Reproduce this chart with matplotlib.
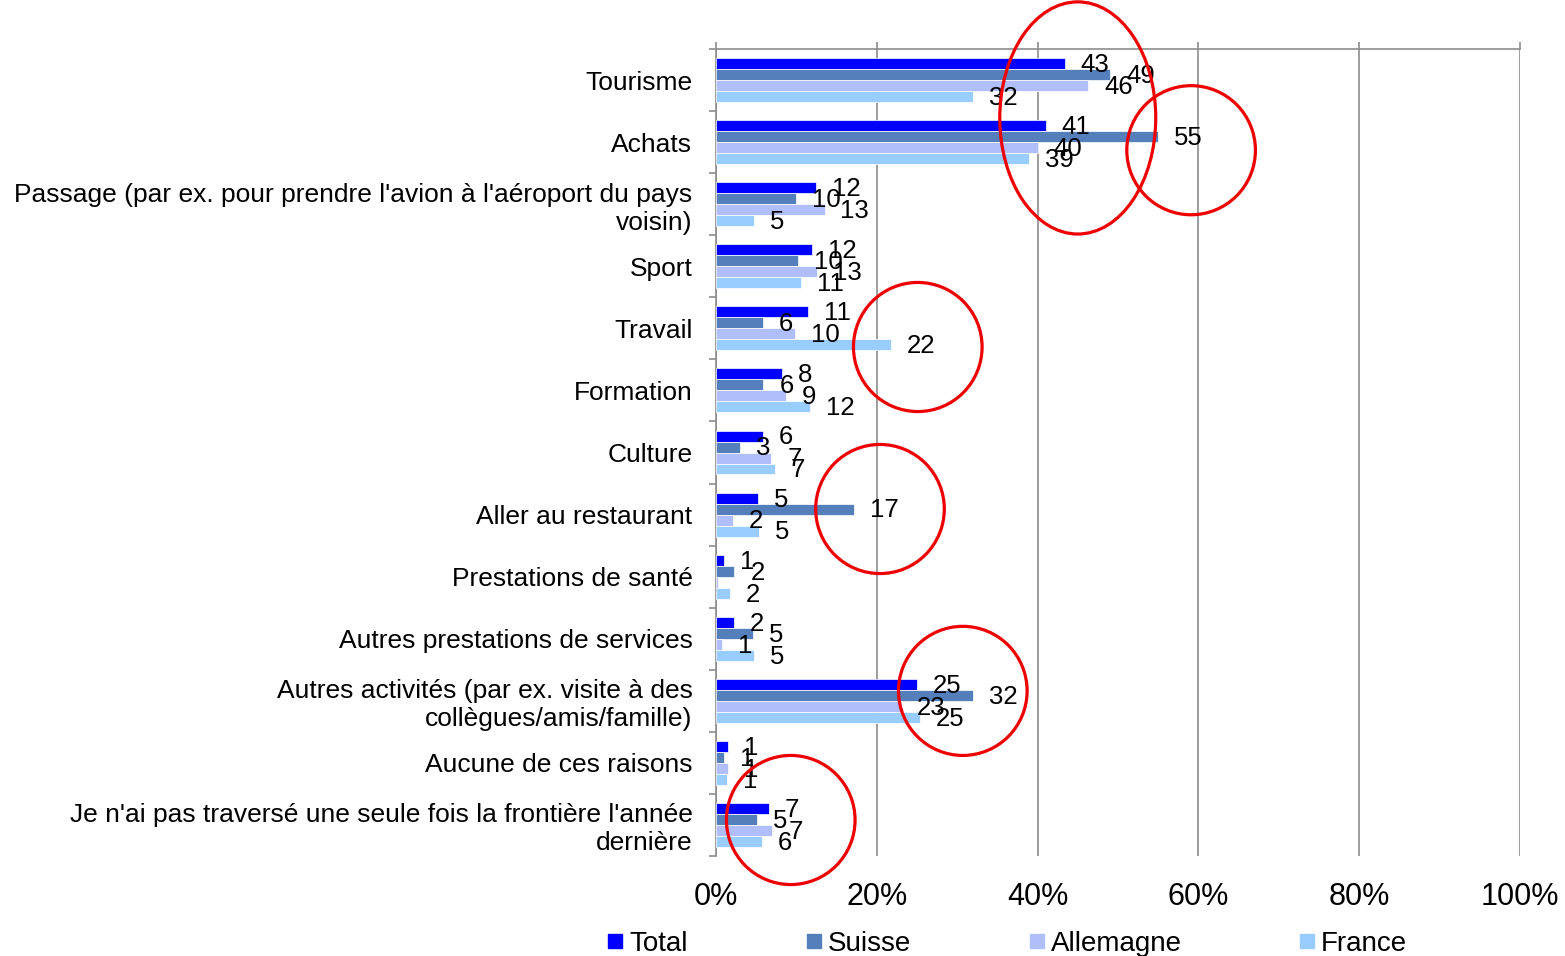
import numpy as np
import matplotlib
matplotlib.use('Agg')
import matplotlib.pyplot as plt
from matplotlib.patches import Ellipse
from matplotlib.lines import Line2D

plt.rcParams['font.family'] = ['Liberation Sans', 'DejaVu Sans']

categories = ['Tourisme',
              'Achats',
              "Passage (par ex. pour prendre l'avion à l'aéroport du pays\nvoisin)",
              'Sport',
              'Travail',
              'Formation',
              'Culture',
              'Aller au restaurant',
              'Prestations de santé',
              'Autres prestations de services',
              'Autres activités (par ex. visite à des\ncollègues/amis/famille)',
              'Aucune de ces raisons',
              "Je n'ai pas traversé une seule fois la frontière l'année\ndernière"]

series_names = ['Total', 'Suisse', 'Allemagne', 'France']
total = [43.4, 41, 12.4, 12, 11.4, 8.2, 5.8, 5.2, 1, 2.2, 25, 1.5, 6.6]
suisse = [49, 55, 10, 10.2, 5.8, 5.9, 3, 17.2, 2.3, 4.6, 32, 1, 5.1]
allemagne = [46.3, 40, 13.5, 12.6, 9.8, 8.7, 6.9, 2.1, 0.3, 0.8, 23, 1.5, 7]
france = [32, 38.9, 4.7, 10.6, 21.8, 11.7, 7.3, 5.4, 1.7, 4.7, 25.4, 1.4, 5.7]
labels_total = ['43', '41', '12', '12', '11', '8', '6', '5', '1', '2', '25', '1', '7']
labels_suisse = ['49', '55', '10', '10', '6', '6', '3', '17', '2', '5', '32', '1', '5']
labels_allemagne = ['46', '40', '13', '13', '10', '9', '7', '2', '', '1', '23', '1', '7']
labels_france = ['32', '39', '5', '11', '22', '12', '7', '5', '2', '5', '25', '1', '6']
xticks = [0, 20, 40, 60, 80, 100]
xtick_labels = ['0%', '20%', '40%', '60%', '80%', '100%']

colors = ['#0000FF', '#557FBB', '#B0BFFB', '#99CCFF']

# red marks drawn over the chart: (x centre, y centre, width, height) in data units
circles = [(45.0, 0.61, 19.4, 3.74),
           (59.1, 1.13, 16.0, 2.08),
           (25.1, 4.30, 16.0, 2.08),
           (20.4, 6.91, 16.0, 2.08),
           (30.7, 9.84, 16.0, 2.08),
           (9.3, 11.92, 16.0, 2.08)]

fig = plt.figure(figsize=(15.65, 9.56), dpi=100)
ax = fig.add_axes([0.4575, 0.1046, 0.9712 - 0.4575, 0.9487 - 0.1046])

y = np.arange(len(categories))
h = 0.177
all_vals = [total, suisse, allemagne, france]
all_labels = [labels_total, labels_suisse, labels_allemagne, labels_france]
for i in range(4):
    pos = y + (i - 1.5) * h
    ax.barh(pos, all_vals[i], height=h, color=colors[i],
            edgecolor='white', linewidth=0.5, zorder=3)
    for p, v, lab in zip(pos, all_vals[i], all_labels[i]):
        if lab:
            ax.annotate(lab, (v, p), xytext=(11.5, -1), textcoords='offset points',
                        ha='left', va='center', fontsize=18.5, zorder=4)

ax.set_xlim(0, 100)
ax.set_ylim(len(categories) - 0.5, -0.5)

grey = '#8C8C8C'
ax.set_xticks(xticks)
ax.set_xticklabels(xtick_labels, fontsize=22)
ax.xaxis.grid(True, color=grey, linewidth=1.2, zorder=0)
ax.tick_params(axis='x', top=True, bottom=False, labeltop=False, labelbottom=True,
               direction='out', length=5, width=1.2, color=grey, pad=14)

ax.set_yticks(y)
ax.set_yticklabels(categories, fontsize=19)
ax.set_yticks(np.arange(len(categories) + 1) - 0.5, minor=True)
ax.tick_params(axis='y', which='major', length=0, pad=17)
ax.tick_params(axis='y', which='minor', length=5, width=1.2, color=grey, direction='out')

for s in ['right', 'bottom']:
    ax.spines[s].set_visible(False)
for s in ['top', 'left']:
    ax.spines[s].set_color(grey)
    ax.spines[s].set_linewidth(1.2)

for cx, cy, w, hh in circles:
    ax.add_patch(Ellipse((cx, cy), w, hh, fill=False, edgecolor='#EE0000',
                         linewidth=2.3, clip_on=False, zorder=5))

handles = [Line2D([], [], marker='s', ls='', color=c, markersize=9.5) for c in colors]
fig.legend(handles, series_names, loc='center', bbox_to_anchor=(0.644, 0.013),
           ncol=4, frameon=False, fontsize=20, handlelength=0.5,
           handletextpad=0.25, columnspacing=4.28, borderpad=0, borderaxespad=0)

fig.savefig('out.png', dpi=100)
